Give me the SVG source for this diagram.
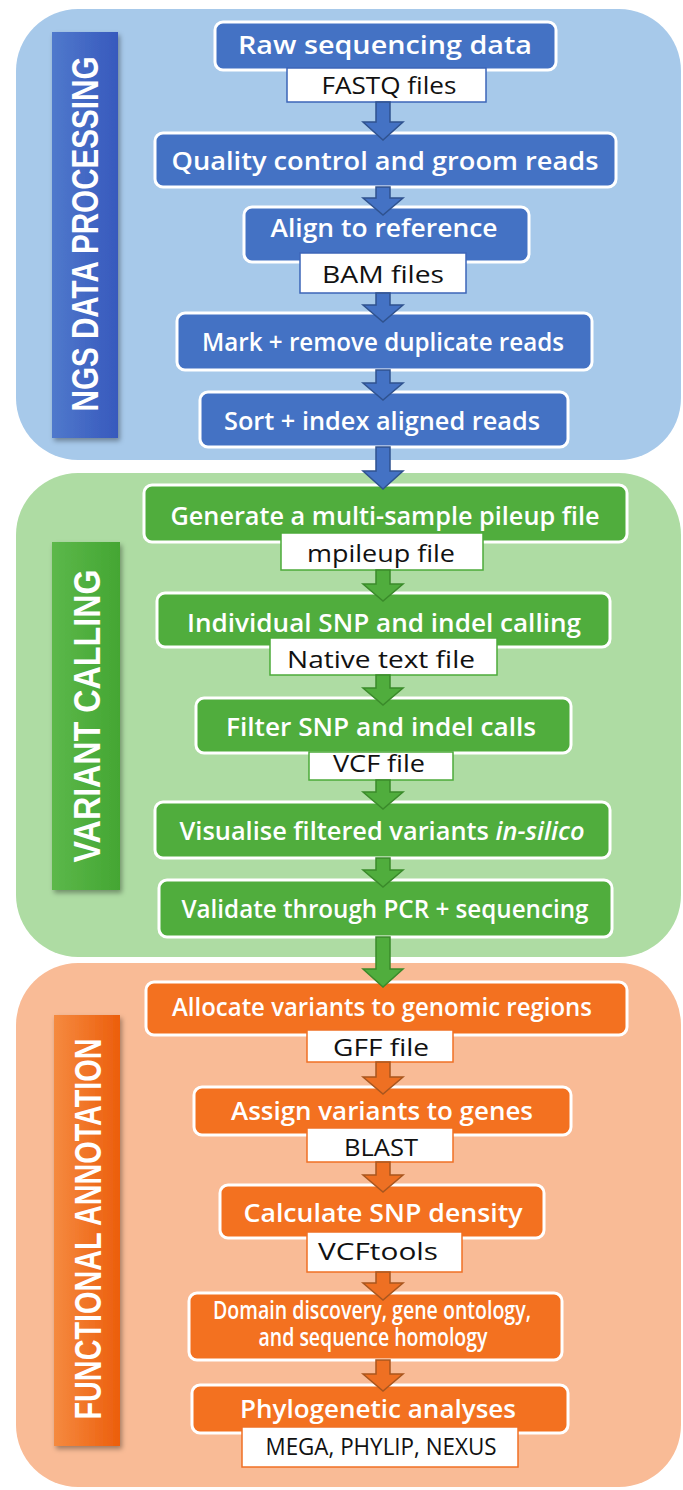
<svg xmlns="http://www.w3.org/2000/svg" width="683" height="1490" viewBox="0 0 683 1490">
<defs>
<style>
.t{font-family:"Open Sans","Liberation Sans",sans-serif;font-weight:600;fill:#fff;text-anchor:middle;font-size:26px}
.s{font-family:"Open Sans","Liberation Sans",sans-serif;font-weight:500;fill:#111;text-anchor:middle;font-size:24px}
.v{font-family:"Liberation Sans","Open Sans",sans-serif;font-weight:bold;fill:#fff;text-anchor:middle;font-size:36px}
.bb{fill:#4472c4;stroke:#fff;stroke-width:3}
.gb{fill:#50ad3d;stroke:#fff;stroke-width:3}
.ob{fill:#f37120;stroke:#fff;stroke-width:3}
.bs{fill:#fff;stroke:#3d65b8;stroke-width:1.5}
.gs{fill:#fff;stroke:#4caa3a;stroke-width:1.5}
.os{fill:#fff;stroke:#f07024;stroke-width:1.5}
.ba{fill:#4472c4;stroke:#2f528f;stroke-width:1.5}
.ga{fill:#50ad3d;stroke:#3a8a2a;stroke-width:1.5}
.oa{fill:#ee7023;stroke:#a9561e;stroke-width:1.5}
</style>
<linearGradient id="gBlue" x1="0" x2="1" y1="0" y2="0"><stop offset="0" stop-color="#5079cc"/><stop offset="1" stop-color="#3759bd"/></linearGradient>
<linearGradient id="gGreen" x1="0" x2="1" y1="0" y2="0"><stop offset="0" stop-color="#5cb84a"/><stop offset="1" stop-color="#44a633"/></linearGradient>
<linearGradient id="gOrange" x1="0" x2="1" y1="0" y2="0"><stop offset="0" stop-color="#f58a40"/><stop offset="1" stop-color="#ec5e0c"/></linearGradient>
<filter id="sh" x="-20%" y="-5%" width="140%" height="115%"><feDropShadow dx="2" dy="3" stdDeviation="2.5" flood-color="#000" flood-opacity="0.35"/></filter>
</defs>

<g id="panels">
<rect id="panel-ngs" x="16" y="9" width="665" height="451" rx="62" fill="#a7c9ea"/>
<rect id="panel-variant" x="16" y="473" width="665" height="484" rx="62" fill="#aedca3"/>
<rect id="panel-functional" x="16" y="963" width="665" height="524" rx="62" fill="#f9bb96"/>
</g>

<g id="bar-ngs">
<rect x="52" y="32" width="66" height="406" fill="url(#gBlue)" filter="url(#sh)"/>
<text class="v" transform="translate(98,234) rotate(-90)" textLength="355" lengthAdjust="spacingAndGlyphs">NGS DATA PROCESSING</text>
</g>
<g id="bar-variant">
<rect x="52" y="542" width="68" height="348" fill="url(#gGreen)" filter="url(#sh)"/>
<text class="v" transform="translate(100,716) rotate(-90)" textLength="293" lengthAdjust="spacingAndGlyphs">VARIANT CALLING</text>
</g>
<g id="bar-functional">
<rect x="54" y="1015" width="66" height="431" fill="url(#gOrange)" filter="url(#sh)"/>
<text class="v" transform="translate(101,1229) rotate(-90)" textLength="381" lengthAdjust="spacingAndGlyphs">FUNCTIONAL ANNOTATION</text>
</g>

<g id="n1"><rect class="bb" x="215" y="22" width="341" height="48" rx="8"/><text class="t" x="385" y="54" font-size="28" textLength="294" lengthAdjust="spacingAndGlyphs">Raw sequencing data</text>
<rect class="bs" x="287" y="68" width="199" height="34"/><text class="s" x="389" y="94" textLength="135" lengthAdjust="spacingAndGlyphs">FASTQ files</text></g>
<g id="n2"><rect class="bb" x="155" y="133" width="461" height="54" rx="8"/><text class="t" x="385" y="170" textLength="427" lengthAdjust="spacingAndGlyphs">Quality control and groom reads</text></g>
<g id="n3"><rect class="bb" x="244" y="207" width="285" height="55" rx="8"/><text class="t" x="384" y="237" textLength="227" lengthAdjust="spacingAndGlyphs">Align to reference</text>
<rect class="bs" x="300" y="253" width="166" height="40"/><text class="s" x="383" y="283" textLength="122" lengthAdjust="spacingAndGlyphs">BAM files</text></g>
<g id="n4"><rect class="bb" x="177" y="313" width="415" height="57" rx="8"/><text class="t" x="383" y="351" textLength="362" lengthAdjust="spacingAndGlyphs">Mark + remove duplicate reads</text></g>
<g id="n5"><rect class="bb" x="200" y="392" width="368" height="55" rx="8"/><text class="t" x="382" y="430" textLength="316" lengthAdjust="spacingAndGlyphs">Sort + index aligned reads</text></g>

<g id="n6"><rect class="gb" x="144" y="485" width="483" height="57" rx="8"/><text class="t" x="385" y="525" textLength="429" lengthAdjust="spacingAndGlyphs">Generate a multi-sample pileup file</text>
<rect class="gs" x="281" y="533" width="202" height="37"/><text class="s" x="381" y="562" textLength="148" lengthAdjust="spacingAndGlyphs">mpileup file</text></g>
<g id="n7"><rect class="gb" x="157" y="593" width="453" height="54" rx="8"/><text class="t" x="384" y="632" textLength="394" lengthAdjust="spacingAndGlyphs">Individual SNP and indel calling</text>
<rect class="gs" x="270" y="638" width="227" height="37"/><text class="s" x="381" y="668" textLength="188" lengthAdjust="spacingAndGlyphs">Native text file</text></g>
<g id="n8"><rect class="gb" x="196" y="698" width="375" height="55" rx="8"/><text class="t" x="381" y="736" textLength="310" lengthAdjust="spacingAndGlyphs">Filter SNP and indel calls</text>
<rect class="gs" x="309" y="752" width="144" height="28"/><text class="s" x="379" y="772" textLength="92" lengthAdjust="spacingAndGlyphs">VCF file</text></g>
<g id="n9"><rect class="gb" x="155" y="802" width="455" height="56" rx="8"/><text class="t" x="382" y="840" textLength="405" lengthAdjust="spacingAndGlyphs">Visualise filtered variants <tspan font-style="italic">in-silico</tspan></text></g>
<g id="n10"><rect class="gb" x="159" y="880" width="453" height="57" rx="8"/><text class="t" x="385" y="918" textLength="407" lengthAdjust="spacingAndGlyphs">Validate through PCR + sequencing</text></g>

<g id="n11"><rect class="ob" x="146" y="982" width="481" height="53" rx="8"/><text class="t" x="382" y="1016" textLength="420" lengthAdjust="spacingAndGlyphs">Allocate variants to genomic regions</text>
<rect class="os" x="307" y="1030" width="146" height="32"/><text class="s" x="381" y="1056" textLength="96" lengthAdjust="spacingAndGlyphs">GFF file</text></g>
<g id="n12"><rect class="ob" x="194" y="1087" width="377" height="48" rx="8"/><text class="t" x="382" y="1120" textLength="302" lengthAdjust="spacingAndGlyphs">Assign variants to genes</text>
<rect class="os" x="307" y="1128" width="146" height="34"/><text class="s" x="381" y="1156" textLength="74" lengthAdjust="spacingAndGlyphs">BLAST</text></g>
<g id="n13"><rect class="ob" x="220" y="1185" width="324" height="53" rx="8"/><text class="t" x="383" y="1222" textLength="279" lengthAdjust="spacingAndGlyphs">Calculate SNP density</text>
<rect class="os" x="307" y="1232" width="155" height="40"/><text class="s" x="378" y="1260" textLength="120" lengthAdjust="spacingAndGlyphs">VCFtools</text></g>
<g id="n14"><rect class="ob" x="189" y="1293" width="373" height="67" rx="8"/><text class="t" font-size="17"><tspan x="372" y="1319" textLength="318" lengthAdjust="spacingAndGlyphs">Domain discovery, gene ontology,</tspan><tspan x="373" y="1346" textLength="229" lengthAdjust="spacingAndGlyphs">and sequence homology</tspan></text></g>
<g id="n15"><rect class="ob" x="192" y="1385" width="376" height="48" rx="8"/><text class="t" x="378" y="1418" font-size="28" textLength="276" lengthAdjust="spacingAndGlyphs">Phylogenetic analyses</text>
<rect class="os" x="242" y="1427" width="276" height="40"/><text class="s" x="381" y="1455" font-size="22" textLength="231" lengthAdjust="spacingAndGlyphs">MEGA, PHYLIP, NEXUS</text></g>

<g id="connectors">
<path class="ba" d="M376,102 V122 H363 L383,140 L403,122 H390 V102 Z"/>
<path class="ba" d="M376,187 V198 H363 L383,215 L403,198 H390 V187 Z"/>
<path class="ba" d="M376,293 V305 H363 L383,322 L403,305 H390 V293 Z"/>
<path class="ba" d="M376,370 V383 H363 L383,400 L403,383 H390 V370 Z"/>
<path class="ba" d="M376,447 V471 H363 L383,489 L403,471 H390 V447 Z"/>
<path class="ga" d="M376,570 V584 H363 L383,601 L403,584 H390 V570 Z"/>
<path class="ga" d="M376,675 V688 H363 L383,705 L403,688 H390 V675 Z"/>
<path class="ga" d="M376,780 V792 H363 L383,809 L403,792 H390 V780 Z"/>
<path class="ga" d="M376,858 V870 H363 L383,887 L403,870 H390 V858 Z"/>
<path class="ga" d="M376,937 V969 H363 L383,987 L403,969 H390 V937 Z"/>
<path class="oa" d="M376,1062 V1077 H363 L383,1094 L403,1077 H390 V1062 Z"/>
<path class="oa" d="M376,1162 V1175 H363 L383,1192 L403,1175 H390 V1162 Z"/>
<path class="oa" d="M376,1272 V1283 H363 L383,1300 L403,1283 H390 V1272 Z"/>
<path class="oa" d="M376,1360 V1374 H363 L383,1391 L403,1374 H390 V1360 Z"/>
</g>
</svg>
